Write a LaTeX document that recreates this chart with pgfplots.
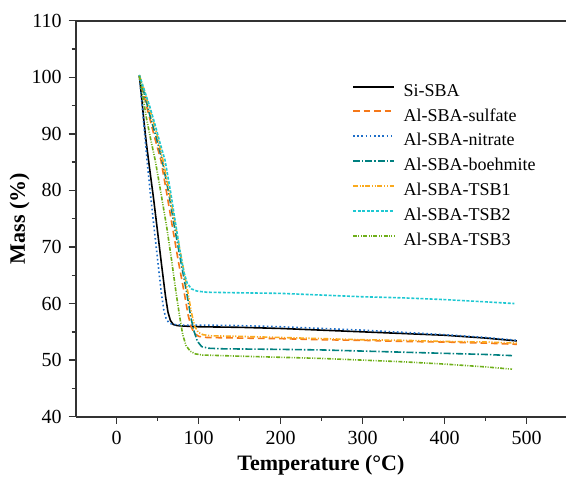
\documentclass[border=0pt]{standalone}
\usepackage{pgfplots}
\pgfplotsset{compat=1.18}
\usepackage{fontspec}
\setmainfont{Liberation Serif}
\definecolor{cSulf}{RGB}{245,120,25}
\definecolor{cNitr}{RGB}{30,110,200}
\definecolor{cBoeh}{RGB}{0,128,128}
\definecolor{cTSBa}{RGB}{250,170,30}
\definecolor{cTSBb}{RGB}{30,200,210}
\definecolor{cTSBc}{RGB}{110,175,25}
\begin{document}
\begin{tikzpicture}
\useasboundingbox (0,0) rectangle (283pt,238pt);
\begin{axis}[
  at={(37.85pt,29.65pt)}, anchor=south west,
  scale only axis, width=245.2pt, height=198pt,
  xmin=-50, xmax=548, ymin=40, ymax=110,
  axis x line=box, axis y line=left,
  axis line style={-, line width=0.9pt, color=black!80},
  xtick={0,100,200,300,400,500}, ytick={40,50,60,70,80,90,100,110},
  minor x tick num=1, minor y tick num=1,
  xtick pos=bottom,
  tick align=outside,
  major tick length=3.5pt, minor tick length=2pt,
  every tick/.style={black!80, line width=0.7pt},
  /pgf/number format/assume math mode=true,
  tick label style={font=\fontsize{10}{12}\selectfont},
  xlabel={\textbf{Temperature (°C)}},
  ylabel={\textbf{Mass (\%)}},
  every axis x label/.style={at={(axis description cs:0.5,-0.1371)}, anchor=base, font=\fontsize{11}{13}\selectfont},
  every axis y label/.style={at={(axis description cs:-0.1036,0.5)}, anchor=base, rotate=90, font=\fontsize{11}{13}\selectfont},
  legend style={draw=none, fill=none, inner sep=0pt, outer sep=0pt,
    at={(axis description cs:0.5634,0.8495)}, anchor=north west,
    font=\fontsize{9}{11}\selectfont, row sep=0pt,
    nodes={inner sep=0pt, text height=8pt, text depth=4.4pt},
    /tikz/every odd column/.append style={column sep=4.3pt}},
  legend cell align=left,
  legend image code/.code={\draw[#1, line width=1pt] (0pt,3pt) -- (20.5pt,3pt);},
]
\addplot[black, line width=0.8pt] coordinates {(27.6,100.3) (30,97) (33,92.5) (36,88.5) (40,84) (45,78.5) (50,72.5) (55,66.5) (59.5,61.3) (62.5,58.5) (65.5,57.0) (69,56.3) (74,56.1) (85,56.0) (100,55.9) (150,55.8) (200,55.6) (250,55.3) (300,55.0) (350,54.7) (400,54.4) (450,53.9) (488,53.4)};
\addlegendentry{Si-SBA}
\addplot[cSulf, line width=0.8pt, dash pattern=on 3.3pt off 2pt] coordinates {(27.6,100.3) (32,97.5) (38,94) (46,89.5) (54,85.3) (61,79.5) (68,73.5) (75,67.6) (82.5,61.8) (87,58) (91,55.8) (95,54.7) (100,54.2) (110,54.0) (150,53.9) (200,53.8) (250,53.6) (300,53.5) (350,53.3) (400,53.2) (450,53.0) (488,52.8)};
\addlegendentry{Al-SBA-sulfate}
\addplot[cNitr, line width=0.8pt, dash pattern=on 0.8pt off 1.3pt] coordinates {(27.6,100.4) (30,96.5) (33.5,91) (37,85.3) (41,79.5) (45.5,73.5) (50,67.6) (54.5,61.8) (57.5,58.8) (60.5,57.2) (64.5,56.5) (70,56.3) (80,56.2) (100,56.2) (150,56.1) (200,55.9) (250,55.6) (300,55.3) (350,54.9) (400,54.5) (450,54.0) (488,53.5)};
\addlegendentry{Al-SBA-nitrate}
\addplot[cBoeh, line width=0.8pt, dash pattern=on 3.5pt off 1pt on 0.7pt off 1pt] coordinates {(27.6,100.2) (33,97.5) (40,93.5) (48,89.5) (55.5,85.3) (63.5,79.5) (70.5,73.5) (78,67.6) (85.5,61.8) (90.5,57.5) (94.5,55) (98.5,53.3) (103.5,52.4) (112,52.1) (130,52.0) (200,51.9) (250,51.8) (300,51.6) (350,51.4) (400,51.2) (450,51.0) (482,50.8)};
\addlegendentry{Al-SBA-boehmite}
\addplot[cTSBa, line width=0.8pt, dash pattern=on 2.5pt off 0.8pt on 0.6pt off 0.8pt on 0.6pt off 0.8pt] coordinates {(27.6,100.4) (33,98) (40,94.5) (49,90) (56.5,85.3) (64.5,79.5) (72,73.5) (79.5,67.6) (87,61.8) (91,58.5) (95,56) (99.5,54.9) (105,54.5) (115,54.3) (150,54.2) (200,54.0) (250,53.8) (300,53.6) (350,53.5) (400,53.3) (450,53.2) (488,53.0)};
\addlegendentry{Al-SBA-TSB1}
\addplot[cTSBb, line width=0.8pt, dash pattern=on 1.5pt off 0.8pt] coordinates {(27.6,100.4) (33,98) (40,95) (47,91.5) (53,88.3) (59,85.3) (66,79.5) (72.5,73.5) (77.5,69) (82,65.5) (86,63.6) (91,62.6) (98,62.2) (110,62.0) (150,61.9) (200,61.8) (250,61.5) (300,61.2) (350,61.0) (400,60.7) (450,60.3) (485,60.0)};
\addlegendentry{Al-SBA-TSB2}
\addplot[cTSBc, line width=0.8pt, dash pattern=on 2pt off 0.7pt on 0.5pt off 0.7pt on 0.5pt off 0.7pt] coordinates {(27.6,100.2) (31,97.5) (36,93) (41.5,89) (47,85.3) (54,79.5) (61,73.5) (67,67.6) (72.5,61.8) (77,57.5) (80.5,54.5) (84.5,52.6) (89.5,51.6) (96,51.1) (105,50.9) (150,50.7) (200,50.5) (250,50.3) (300,50.0) (350,49.7) (400,49.3) (450,48.8) (482,48.4)};
\addlegendentry{Al-SBA-TSB3}
\end{axis}
\end{tikzpicture}
\end{document}
